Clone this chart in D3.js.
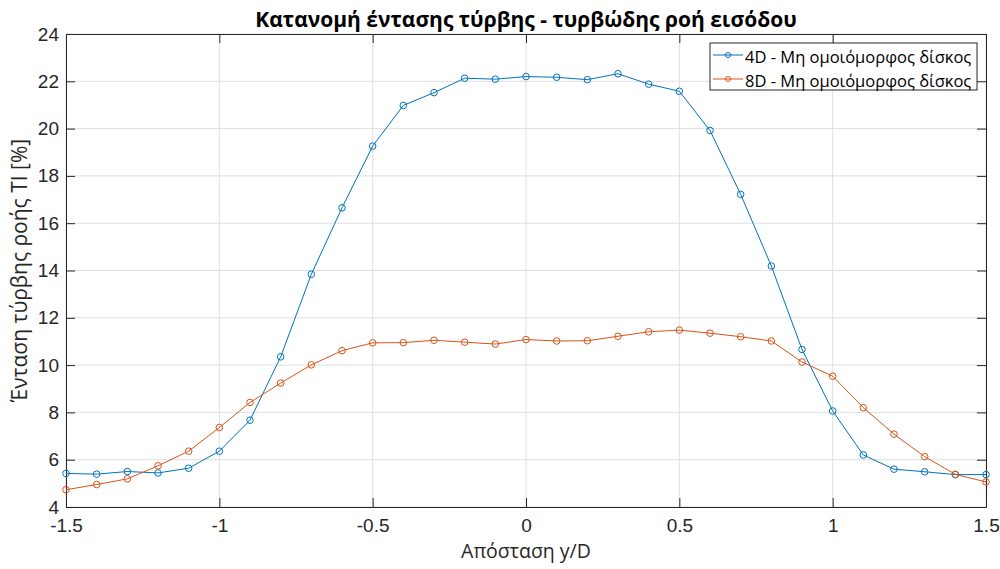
<!DOCTYPE html>
<html>
<head>
<meta charset="utf-8">
<script src="https://cdn.jsdelivr.net/npm/d3@7"></script>
<style>
  html, body { margin: 0; padding: 0; background: #fff; }
  svg { display: block; font-family: "Liberation Sans", Arial, Helvetica, sans-serif; }
</style>
</head>
<body>
<svg id="chart" width="1000" height="569"></svg>
<script>
// Lateral positions y/D
const positions = [-1.5, -1.4, -1.3, -1.2, -1.1, -1.0, -0.9, -0.8, -0.7, -0.6, -0.5, -0.4, -0.3, -0.2, -0.1,
  0, 0.1, 0.2, 0.3, 0.4, 0.5, 0.6, 0.7, 0.8, 0.9, 1.0, 1.1, 1.2, 1.3, 1.4, 1.5];

// Turbulence intensity TI [%] at 4D downstream
const ti4D = [5.42, 5.39, 5.50, 5.44, 5.64, 6.36, 7.67, 10.35, 13.84, 16.65, 19.26, 20.98, 21.52, 22.13, 22.09,
  22.20, 22.17, 22.07, 22.32, 21.88, 21.58, 19.92, 17.22, 14.19, 10.66, 8.06, 6.20, 5.60, 5.49, 5.37, 5.37];

// Turbulence intensity TI [%] at 8D downstream
const ti8D = [4.73, 4.95, 5.19, 5.74, 6.36, 7.36, 8.42, 9.24, 10.01, 10.61, 10.94, 10.95, 11.05, 10.97, 10.89,
  11.08, 11.02, 11.03, 11.22, 11.41, 11.48, 11.35, 11.20, 11.02, 10.13, 9.53, 8.20, 7.08, 6.13, 5.38, 5.06];

const seriesNames = ["4D - Μη ομοιόμορφος δίσκος", "8D - Μη ομοιόμορφος δίσκος"];
const xTicks = [-1.5, -1, -0.5, 0, 0.5, 1, 1.5];
const yTicks = [4, 6, 8, 10, 12, 14, 16, 18, 20, 22, 24];

const titleText = "Κατανομή έντασης τύρβης - τυρβώδης ροή εισόδου";
const xLabelText = "Απόσταση y/D";
const yLabelText = "Ένταση τύρβης ροής TI [%]";

const colors = ["#0072BD", "#D95319"];
const axisColor = "#262626";
const labelFont = "'Open Sans', 'Noto Sans', sans-serif";
const tickFont = "'Liberation Sans', Arial, sans-serif";

const svg = d3.select("#chart");
const plotL = 66, plotR = 986, plotT = 34, plotB = 507;

const x = d3.scaleLinear().domain([-1.5, 1.5]).range([plotL, plotR]);
const y = d3.scaleLinear().domain([4, 24]).range([plotB, plotT]);

const fmt = d => String(d);

// grid
const grid = svg.append("g");
grid.selectAll("line.gx").data(xTicks).join("line")
  .attr("x1", d => x(d)).attr("x2", d => x(d))
  .attr("y1", plotT).attr("y2", plotB)
  .attr("stroke", "#dfdfdf").attr("stroke-width", 1);
grid.selectAll("line.gy").data(yTicks).join("line")
  .attr("y1", d => y(d)).attr("y2", d => y(d))
  .attr("x1", plotL).attr("x2", plotR)
  .attr("stroke", "#dfdfdf").attr("stroke-width", 1);

// axes with inward ticks on all four sides
const tickLen = 9;
const axB = svg.append("g").attr("transform", `translate(0,${plotB})`)
  .call(d3.axisBottom(x).tickValues(xTicks).tickFormat(fmt).tickSizeInner(-tickLen).tickSizeOuter(0).tickPadding(12));
const axT = svg.append("g").attr("transform", `translate(0,${plotT})`)
  .call(d3.axisTop(x).tickValues(xTicks).tickFormat("").tickSizeInner(-tickLen).tickSizeOuter(0));
const axL = svg.append("g").attr("transform", `translate(${plotL},0)`)
  .call(d3.axisLeft(y).tickValues(yTicks).tickFormat(fmt).tickSizeInner(-tickLen).tickSizeOuter(0).tickPadding(7));
const axR = svg.append("g").attr("transform", `translate(${plotR},0)`)
  .call(d3.axisRight(y).tickValues(yTicks).tickFormat("").tickSizeInner(-tickLen).tickSizeOuter(0));

[axB, axT, axL, axR].forEach(a => {
  a.select(".domain").attr("stroke", axisColor).attr("stroke-width", 1);
  a.selectAll(".tick line").attr("stroke", axisColor);
  a.selectAll(".tick text").attr("fill", axisColor).style("font-size", "19px")
    .style("font-family", tickFont);
});
axB.selectAll(".tick text").attr("dy", "0.71em");

// data lines with open circle markers
[ti4D, ti8D].forEach((vals, i) => {
  const pts = positions.map((p, k) => [p, vals[k]]);
  svg.append("path")
    .datum(pts)
    .attr("fill", "none")
    .attr("stroke", colors[i])
    .attr("stroke-width", 1)
    .attr("d", d3.line().x(d => x(d[0])).y(d => y(d[1])));
  svg.append("g").selectAll("circle").data(pts).join("circle")
    .attr("cx", d => x(d[0])).attr("cy", d => y(d[1]))
    .attr("r", 3.3)
    .attr("fill", "none")
    .attr("stroke", colors[i])
    .attr("stroke-width", 1);
});

// title and axis labels
svg.append("text")
  .attr("x", (plotL + plotR) / 2).attr("y", 27)
  .attr("text-anchor", "middle")
  .attr("fill", "#000")
  .style("font-family", labelFont)
  .style("font-size", "21px").style("font-weight", "bold")
  .text(titleText);

svg.append("text")
  .attr("x", (plotL + plotR) / 2).attr("y", 558)
  .attr("text-anchor", "middle")
  .attr("fill", axisColor)
  .style("font-family", labelFont)
  .style("font-size", "19.5px")
  .text(xLabelText);

svg.append("text")
  .attr("transform", `translate(27,${(plotT + plotB) / 2}) rotate(-90)`)
  .attr("text-anchor", "middle")
  .attr("fill", axisColor)
  .style("font-family", labelFont)
  .style("font-size", "21px")
  .text(yLabelText);

// legend
const lg = svg.append("g").attr("transform", "translate(710,43)");
lg.append("rect")
  .attr("width", 267).attr("height", 47)
  .attr("fill", "#fff").attr("stroke", axisColor).attr("stroke-width", 1);
seriesNames.forEach((name, i) => {
  const cy = 12 + i * 24;
  lg.append("line").attr("x1", 3).attr("x2", 33).attr("y1", cy).attr("y2", cy)
    .attr("stroke", colors[i]).attr("stroke-width", 1);
  lg.append("circle").attr("cx", 18).attr("cy", cy).attr("r", 2.5)
    .attr("fill", "none").attr("stroke", colors[i]).attr("stroke-width", 1);
  lg.append("text").attr("x", 35).attr("y", cy + 8)
    .attr("fill", "#000")
    .style("font-family", labelFont)
    .style("font-size", "16.5px")
    .text(name);
});
</script>
</body>
</html>
